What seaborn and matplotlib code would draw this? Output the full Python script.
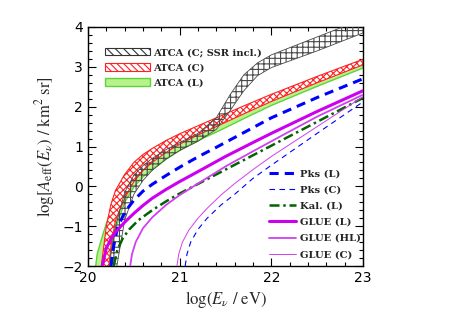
import numpy as np
import pandas as pd
import seaborn as sns
import matplotlib
matplotlib.use("Agg")
import matplotlib.pyplot as plt
from matplotlib.patches import Patch
from matplotlib.lines import Line2D
from matplotlib.ticker import MultipleLocator

# --- DATA ---
# ATCA bands: x grid and lower/upper edges
band_x = [20.05, 20.10, 20.15, 20.20, 20.25, 20.30, 20.40, 20.50, 20.60, 20.70,
          20.85, 21.00, 21.20, 21.40, 21.70, 22.00, 22.50, 23.00]
atca_c_hi = [-4.5, -3.0, -1.9, -1.0, -0.45, -0.10, 0.30, 0.60, 0.80, 0.95,
             1.15, 1.32, 1.52, 1.72, 2.02, 2.31, 2.76, 3.19]
atca_c_lo = [-7.0, -5.0, -4.0, -2.6, -1.5, -0.85, -0.30, 0.12, 0.40, 0.60,
             0.85, 1.06, 1.29, 1.50, 1.82, 2.13, 2.60, 3.05]
atca_l_hi = [-2.6, -1.7, -1.3, -0.93, -0.60, -0.35, 0.05, 0.33, 0.55, 0.72,
             0.95, 1.14, 1.36, 1.56, 1.89, 2.18, 2.65, 3.11]
atca_l_lo = [-8.0, -6.0, -4.5, -2.6, -1.6, -1.05, -0.40, -0.02, 0.24, 0.42,
             0.68, 0.90, 1.15, 1.36, 1.70, 2.03, 2.51, 2.97]

ssr_x = [20.15, 20.20, 20.25, 20.30, 20.40, 20.50, 20.60, 20.70, 20.85, 21.00,
         21.20, 21.40, 21.55, 21.70, 21.85, 22.00, 22.50, 23.00]
ssr_hi = [-5.0, -3.2, -1.7, -1.0, -0.15, 0.28, 0.52, 0.70, 0.92, 1.10,
          1.33, 1.72, 2.30, 2.80, 3.10, 3.30, 3.75, 4.20]
ssr_lo = [-9.0, -6.0, -3.5, -2.2, -0.85, -0.20, 0.15, 0.40, 0.68, 0.90,
          1.13, 1.43, 1.90, 2.40, 2.78, 2.98, 3.40, 3.85]

# line curves
pks_l_x = [20.25, 20.28, 20.32, 20.40, 20.50, 20.60, 20.70, 20.85, 21.00, 21.20,
           21.40, 21.70, 22.00, 22.50, 23.00]
pks_l_y = [-2.0, -1.5, -1.05, -0.65, -0.35, -0.12, 0.05, 0.27, 0.48, 0.74,
           0.98, 1.35, 1.72, 2.23, 2.70]

pks_c_x = [21.06, 21.08, 21.12, 21.20, 21.30, 21.45, 21.60, 21.80, 22.00, 22.20, 22.50, 23.00]
pks_c_y = [-2.0, -1.7, -1.4, -1.08, -0.8, -0.47, -0.2, 0.2, 0.53, 0.85, 1.33, 2.12]

kal_l_x = [20.28, 20.32, 20.38, 20.45, 20.55, 20.70, 20.85, 21.00, 21.20, 21.50,
           21.70, 22.00, 22.50, 23.00]
kal_l_y = [-2.0, -1.6, -1.3, -1.08, -0.85, -0.6, -0.38, -0.18, 0.06, 0.42,
           0.66, 1.02, 1.62, 2.22]

glue_l_x = [20.15, 20.20, 20.25, 20.30, 20.40, 20.50, 20.60, 20.70, 20.85, 21.00,
            21.20, 21.50, 21.80, 22.00, 22.20, 22.50, 23.00]
glue_l_y = [-2.05, -1.55, -1.32, -1.15, -0.9, -0.68, -0.48, -0.3, -0.08, 0.12,
            0.37, 0.75, 1.1, 1.33, 1.55, 1.88, 2.40]

glue_hl_x = [20.46, 20.48, 20.52, 20.60, 20.70, 20.85, 21.00, 21.20, 21.50, 21.80,
             22.00, 22.20, 22.50, 23.00]
glue_hl_y = [-2.0, -1.7, -1.4, -1.05, -0.78, -0.47, -0.22, 0.07, 0.5, 0.88,
             1.13, 1.38, 1.75, 2.30]

glue_c_x = [20.97, 20.99, 21.03, 21.10, 21.20, 21.30, 21.45, 21.60, 21.80, 22.00,
            22.20, 22.50, 23.00]
glue_c_y = [-2.0, -1.7, -1.4, -1.1, -0.8, -0.55, -0.22, 0.07, 0.42, 0.75,
            1.05, 1.5, 2.25]

# --- STYLE ---
sns.set_theme(style="ticks")
plt.rcParams['font.family'] = ['DejaVu Sans']
plt.rcParams['mathtext.fontset'] = 'stix'
plt.rcParams['hatch.linewidth'] = 0.8

blue = '#0000ff'
dgreen = '#006400'
mag = '#cc00ee'
mag2 = '#d040f0'

fig = plt.figure(figsize=(4.5, 3.21), dpi=100)
ax = fig.add_axes([0.1956, 0.1713, 0.611, 0.7446])

# bands: green, then red (white face), then black hatch on top
ax.fill_between(band_x, atca_l_lo, atca_l_hi, facecolor='#b8f28a', edgecolor='#5cd43a',
                lw=1.0, zorder=1)
ax.fill_between(band_x, atca_c_lo, atca_c_hi, facecolor='white', edgecolor='#ff2020',
                hatch='xxxxx', lw=0.8, zorder=2)
ax.fill_between(ssr_x, ssr_lo, ssr_hi, facecolor='none', edgecolor='#4a4a4a',
                hatch='+++', lw=0.6, zorder=3)

# lines
curves = [
    (pks_l_x, pks_l_y, blue, (0, (3, 2)), 2.2),
    (pks_c_x, pks_c_y, blue, (0, (5, 4)), 0.8),
    (kal_l_x, kal_l_y, dgreen, (0, (4, 1.5, 1, 1.5)), 1.8),
    (glue_l_x, glue_l_y, mag, '-', 2.2),
    (glue_hl_x, glue_hl_y, mag2, '-', 1.3),
    (glue_c_x, glue_c_y, mag2, '-', 0.7),
]
for xs, ys, c, ls, lw in curves:
    sns.lineplot(x=xs, y=ys, ax=ax, color=c, linestyle=ls, lw=lw, zorder=4, sort=False)

ax.set_xlim(20, 23)
ax.set_ylim(-2, 4)
ax.xaxis.set_major_locator(MultipleLocator(1))
ax.xaxis.set_minor_locator(MultipleLocator(0.2))
ax.yaxis.set_major_locator(MultipleLocator(1))
ax.yaxis.set_minor_locator(MultipleLocator(0.2))
ax.tick_params(which='both', direction='in', top=True, right=True, colors='black',
               labelsize=10, width=0.8)
ax.tick_params(which='major', length=6)
ax.tick_params(which='minor', length=3)
for s in ax.spines.values():
    s.set_color('black')
    s.set_linewidth(1.0)

ax.set_xlabel(r'$\log(E_\nu\ /\ \mathrm{eV})$', fontsize=12, labelpad=3)
ax.set_ylabel(r'$\log[A_\mathrm{eff}(E_\nu)\ /\ \mathrm{km}^2\ \mathrm{sr}]$', fontsize=12, labelpad=4)

lfont = {'family': 'DejaVu Serif', 'weight': 'bold', 'size': 7.2}
h1 = [Patch(facecolor='white', edgecolor='#333333', hatch='\\\\\\\\', lw=0.8),
      Patch(facecolor='white', edgecolor='#ff2020', hatch='\\\\\\\\\\', lw=0.8),
      Patch(facecolor='#b8f28a', edgecolor='#5cd43a', lw=1.0)]
leg1 = ax.legend(h1, ['ATCA (C; SSR incl.)', 'ATCA (C)', 'ATCA (L)'], loc='upper left',
                 bbox_to_anchor=(0.06, 0.913), frameon=False, prop=lfont,
                 handlelength=4.5, handleheight=0.8, labelspacing=0.6,
                 handletextpad=0.4, borderpad=0, borderaxespad=0)
ax.add_artist(leg1)

h2 = [Line2D([], [], color=c, linestyle=ls, lw=lw) for _, _, c, ls, lw in curves]
ax.legend(h2, ['Pks (L)', 'Pks (C)', 'Kal. (L)', 'GLUE (L)', 'GLUE (HL)', 'GLUE (C)'],
          loc='upper left', bbox_to_anchor=(0.66, 0.405), frameon=False, prop=lfont,
          handlelength=2.7, labelspacing=0.72, handletextpad=0.35,
          borderpad=0, borderaxespad=0)

fig.savefig('out.png', dpi=100)
